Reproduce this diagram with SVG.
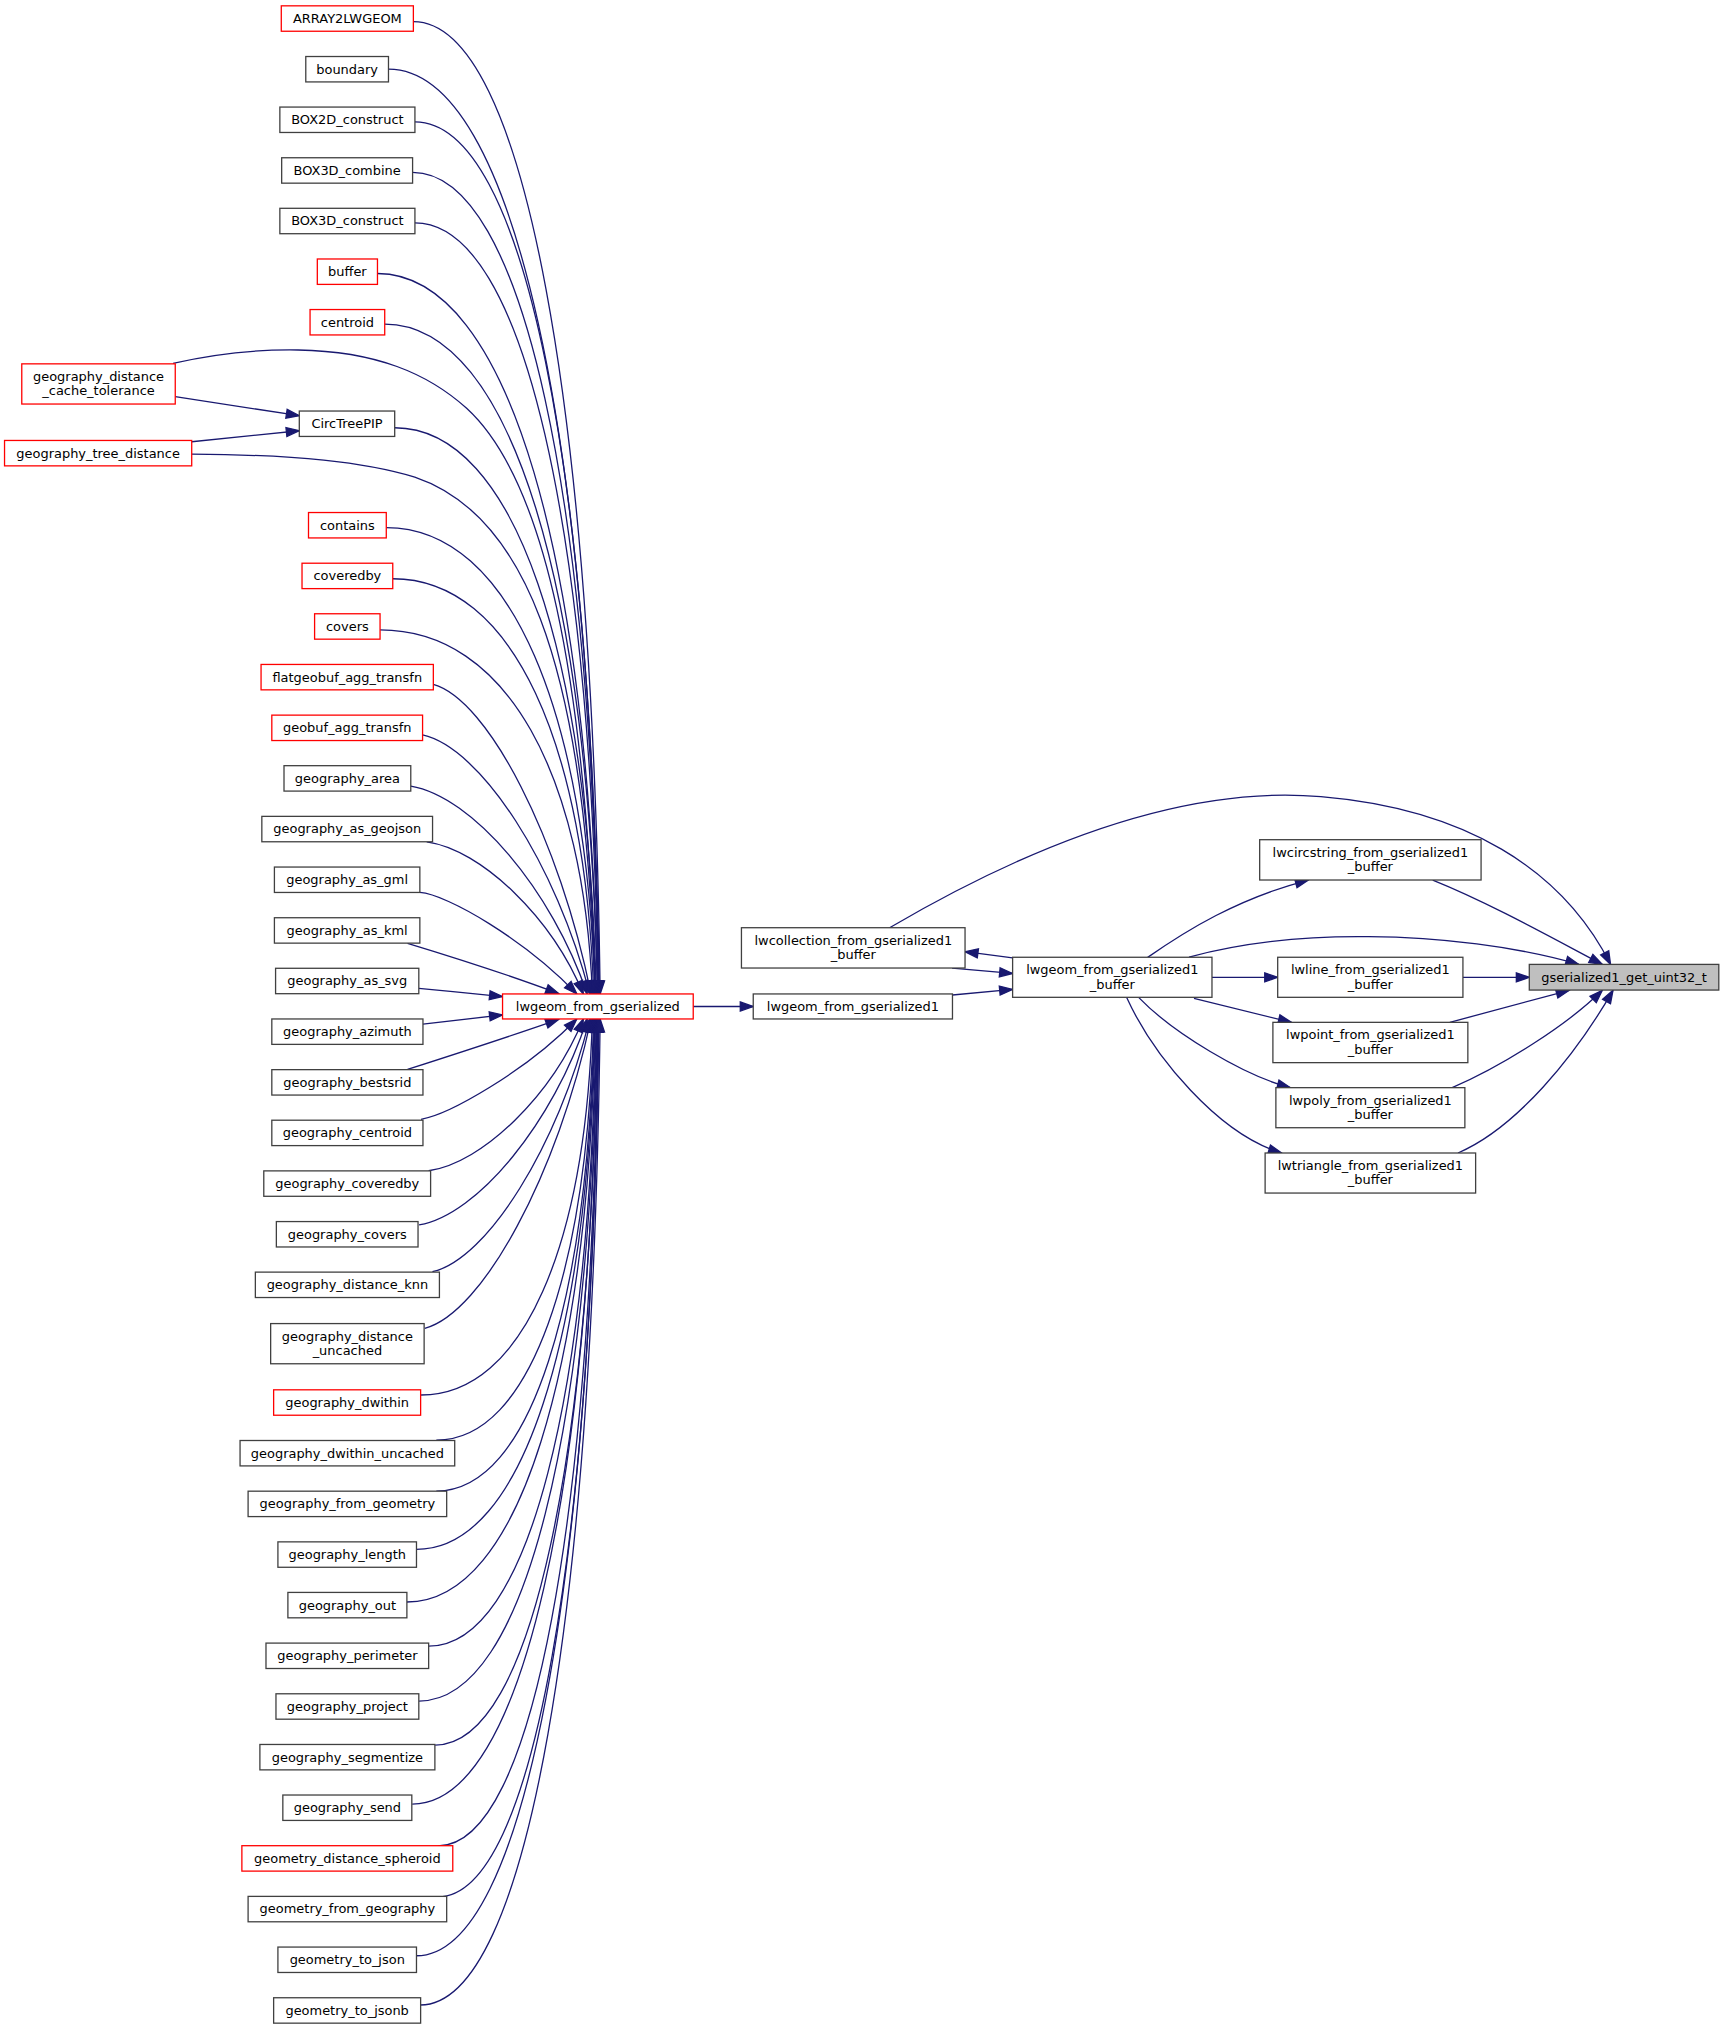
<svg xmlns="http://www.w3.org/2000/svg" width="1724" height="2029" viewBox="0 0 1724 2029">
<style>
.n rect{fill:#ffffff;stroke:#404040;stroke-width:1}
.r rect{fill:#ffffff;stroke:#ff0000;stroke-width:1}
.g rect{fill:#bfbfbf;stroke:#404040;stroke-width:1}
text{font-family:"DejaVu Sans","Liberation Sans",sans-serif;font-size:10px;fill:#000000;text-anchor:middle}
#edges path{fill:none;stroke:#191970;stroke-width:1;marker-end:url(#ah)}
</style>
<defs>
<marker id="ah" markerUnits="userSpaceOnUse" markerWidth="12" markerHeight="9" refX="10" refY="3.5" orient="auto" overflow="visible">
<path d="M0,0 L10,3.5 L0,7 z" fill="#191970" stroke="#191970" stroke-width="1"/>
</marker>
</defs>
<rect x="0" y="0" width="1724" height="2029" fill="#ffffff"/>
<g transform="scale(1.29623)">
<g id="edges">
<path d="M318.9,16.7 C405.4,16.7 457.2,316.7 463,766.8"/>
<path d="M299.7,53.4 C397.4,53.4 456,338.8 462.5,766.8"/>
<path d="M320.1,94 C405.2,94 456.3,363.1 462,766.8"/>
<path d="M318.3,133 C404.5,133 456.3,386.5 462,766.8"/>
<path d="M320.1,172 C404.9,172 455.8,409.9 461.5,766.8"/>
<path d="M291.2,211 C393.1,211 454.2,433.3 461,766.8"/>
<path d="M296.8,250 C395.3,250 454.4,456.7 461,766.8"/>
<path d="M133.5,280.3 C170,272 200,269.5 230,270 C290,271 330,288 360,315 C420,370 452,520 459.5,766.8"/>
<path d="M135.2,306 L230.9,320.7"/>
<path d="M147.9,340.8 L230.9,332.3"/>
<path d="M304.5,330 C397.8,330 453.8,504.7 460,766.8"/>
<path d="M147.9,350.3 C230,351 280,356 320,368 C400,395 452,500 459,766.8"/>
<path d="M298,407 C394.6,407 452.6,550.9 459,766.8"/>
<path d="M303,446.5 C396,446.5 451.8,574.6 458,766.8"/>
<path d="M293.2,486 C391.5,486 450.4,598.3 457,766.8"/>
<path d="M334.3,528 C376.9,539.9 431.7,647.4 456,766.8"/>
<path d="M326,567 C371.2,577 429.2,666.9 455,766.8"/>
<path d="M316.9,606.4 C364.5,614.4 425.8,686.6 453,766.8"/>
<path d="M329.2,649.4 C371.5,655.3 425.8,708.1 450,766.8"/>
<path d="M323.9,688.5 C345,690 405,725 445,766.8"/>
<path d="M314.4,727.7 C355,740 395,753 431,766.5"/>
<path d="M323.1,762.5 C345,764.5 365,766.5 387.7,768.8"/>
<path d="M326.3,790 C345,788 365,785.5 387.7,783"/>
<path d="M314.4,825 C355,812 395,799 431,786.4"/>
<path d="M324.8,863.5 C346,860 405,827 445,786.1"/>
<path d="M330.7,903.2 C372.5,897.3 426.1,844.6 450,786.1"/>
<path d="M323.3,945 C368.7,937.1 427.1,865.6 453,786.1"/>
<path d="M333.6,981.1 C376.1,971.4 430.7,883.6 455,786.1"/>
<path d="M327.7,1024.8 C372.6,1012.9 430.3,905.5 456,786.1"/>
<path d="M324.8,1076.2 C404.1,1076.2 451.7,960.2 457,786.1"/>
<path d="M336.6,1111 C409.4,1111 453.1,981 458,786.1"/>
<path d="M336.6,1150.3 C409.7,1150.3 453.6,1004.6 458.5,786.1"/>
<path d="M321.2,1195.3 C403.9,1195.3 453.5,1031.6 459,786.1"/>
<path d="M313.9,1235.9 C401.3,1235.9 453.7,1056 459.5,786.1"/>
<path d="M330.7,1269.9 C408.3,1269.9 454.8,1076.4 460,786.1"/>
<path d="M323.3,1312.3 C405.6,1312.3 455,1101.8 460.5,786.1"/>
<path d="M335.7,1346.3 C410.9,1346.3 456,1122.2 461,786.1"/>
<path d="M318,1391.8 C403.8,1391.8 455.3,1149.5 461,786.1"/>
<path d="M338,1424 C412.1,1424 456.6,1168.8 461.5,786.1"/>
<path d="M338,1463.3 C412.4,1463.3 457,1192.4 462,786.1"/>
<path d="M321.2,1508.8 C405.7,1508.8 456.4,1219.7 462,786.1"/>
<path d="M324.2,1546.8 C407.5,1546.8 457.4,1242.5 463,786.1"/>
<path d="M534.8,776.5 L581.1,776.5"/>
<path d="M734.8,767.6 L781.2,763.3"/>
<path d="M734.5,746.8 L781.2,751"/>
<path d="M781.2,739 L744.5,734.2"/>
<path d="M686.3,715.7 C790,655 910,605 1019,614.6 C1130,624 1205,670 1242.5,744"/>
<path d="M917.3,738.3 C960,727 1010,722 1056,722.6 C1110,723 1170,730 1218,744"/>
<path d="M885.4,738.6 C915,718 955,693 1009.4,678.9"/>
<path d="M1105.3,679 C1150,697 1200,725 1236.1,744"/>
<path d="M935,754 L985.7,754"/>
<path d="M1128.6,754 L1179.8,754"/>
<path d="M921.1,770.2 L996.3,788.7"/>
<path d="M1118.5,788.7 L1210.6,764"/>
<path d="M878.6,769.6 C905,797 960,830 995.5,839.1"/>
<path d="M1120.3,839.1 C1160,822 1210,790 1236.1,764"/>
<path d="M869.2,769.6 C890,815 940,875 988.7,889.5"/>
<path d="M1124.8,889.5 C1170,870 1215,815 1244.4,764"/>
</g>
<g id="n_array2lwgeom" class="r"><rect x="217" y="4.5" width="101.9" height="19.6"/><text x="268" y="17.7">ARRAY2LWGEOM</text></g>
<g id="n_boundary" class="n"><rect x="235.9" y="43.6" width="63.8" height="19.6"/><text x="267.8" y="56.8">boundary</text></g>
<g id="n_box2d_construct" class="n"><rect x="215.9" y="82.6" width="104.2" height="19.6"/><text x="268" y="95.8">BOX2D_construct</text></g>
<g id="n_box3d_combine" class="n"><rect x="217.3" y="121.7" width="101" height="19.6"/><text x="267.8" y="134.9">BOX3D_combine</text></g>
<g id="n_box3d_construct" class="n"><rect x="215.9" y="160.7" width="104.2" height="19.6"/><text x="268" y="173.9">BOX3D_construct</text></g>
<g id="n_buffer" class="r"><rect x="244.8" y="199.8" width="46.4" height="19.6"/><text x="268" y="213">buffer</text></g>
<g id="n_centroid" class="r"><rect x="239.2" y="238.8" width="57.6" height="19.6"/><text x="268" y="252">centroid</text></g>
<g id="n_geography_distance_cache_tolerance" class="r"><rect x="16.8" y="280.7" width="118.4" height="31"/><text x="76" y="293.8">geography_distance</text><text x="76" y="304.8">_cache_tolerance</text></g>
<g id="n_circtreepip" class="n"><rect x="230.9" y="317.1" width="73.6" height="19.6"/><text x="267.7" y="330.3">CircTreePIP</text></g>
<g id="n_geography_tree_distance" class="r"><rect x="3.5" y="339.8" width="144.4" height="19.6"/><text x="75.7" y="353">geography_tree_distance</text></g>
<g id="n_contains" class="r"><rect x="238" y="395.4" width="60" height="19.6"/><text x="268" y="408.6">contains</text></g>
<g id="n_coveredby" class="r"><rect x="233" y="434.5" width="70" height="19.6"/><text x="268" y="447.7">coveredby</text></g>
<g id="n_covers" class="r"><rect x="242.7" y="473.5" width="50.5" height="19.6"/><text x="268" y="486.7">covers</text></g>
<g id="n_flatgeobuf_agg_transfn" class="r"><rect x="201.4" y="512.6" width="132.9" height="19.6"/><text x="267.9" y="525.8">flatgeobuf_agg_transfn</text></g>
<g id="n_geobuf_agg_transfn" class="r"><rect x="209.7" y="551.7" width="116.3" height="19.6"/><text x="267.9" y="564.9">geobuf_agg_transfn</text></g>
<g id="n_geography_area" class="n"><rect x="219.1" y="590.7" width="97.8" height="19.6"/><text x="268" y="603.9">geography_area</text></g>
<g id="n_geography_as_geojson" class="n"><rect x="202" y="629.8" width="131.7" height="19.6"/><text x="267.9" y="643">geography_as_geojson</text></g>
<g id="n_geography_as_gml" class="n"><rect x="211.7" y="668.9" width="112.2" height="19.6"/><text x="267.8" y="682.1">geography_as_gml</text></g>
<g id="n_geography_as_kml" class="n"><rect x="211.7" y="708" width="112.2" height="19.6"/><text x="267.8" y="721.2">geography_as_kml</text></g>
<g id="n_geography_as_svg" class="n"><rect x="212.6" y="747" width="110.5" height="19.6"/><text x="267.9" y="760.2">geography_as_svg</text></g>
<g id="n_geography_azimuth" class="n"><rect x="209.7" y="786.1" width="116.6" height="19.6"/><text x="268" y="799.3">geography_azimuth</text></g>
<g id="n_geography_bestsrid" class="n"><rect x="209.7" y="825.2" width="116.6" height="19.6"/><text x="268" y="838.4">geography_bestsrid</text></g>
<g id="n_geography_centroid" class="n"><rect x="209.7" y="864.2" width="116.6" height="19.6"/><text x="268" y="877.4">geography_centroid</text></g>
<g id="n_geography_coveredby" class="n"><rect x="203.5" y="903.3" width="128.7" height="19.6"/><text x="267.9" y="916.5">geography_coveredby</text></g>
<g id="n_geography_covers" class="n"><rect x="213.2" y="942.4" width="109.3" height="19.6"/><text x="267.9" y="955.6">geography_covers</text></g>
<g id="n_geography_distance_knn" class="n"><rect x="197" y="981.4" width="142" height="19.6"/><text x="268" y="994.6">geography_distance_knn</text></g>
<g id="n_geography_distance_uncached" class="n"><rect x="208.8" y="1021.1" width="118.4" height="31"/><text x="268" y="1034.2">geography_distance</text><text x="268" y="1045.2">_uncached</text></g>
<g id="n_geography_dwithin" class="r"><rect x="211.1" y="1072.2" width="113.4" height="19.6"/><text x="267.8" y="1085.4">geography_dwithin</text></g>
<g id="n_geography_dwithin_uncached" class="n"><rect x="185.2" y="1111.3" width="165.6" height="19.6"/><text x="268" y="1124.5">geography_dwithin_uncached</text></g>
<g id="n_geography_from_geometry" class="n"><rect x="191.4" y="1150.4" width="153.2" height="19.6"/><text x="268" y="1163.6">geography_from_geometry</text></g>
<g id="n_geography_length" class="n"><rect x="214.4" y="1189.5" width="106.9" height="19.6"/><text x="267.9" y="1202.7">geography_length</text></g>
<g id="n_geography_out" class="n"><rect x="222.1" y="1228.5" width="91.8" height="19.6"/><text x="268" y="1241.7">geography_out</text></g>
<g id="n_geography_perimeter" class="n"><rect x="205.2" y="1267.6" width="125.5" height="19.6"/><text x="268" y="1280.8">geography_perimeter</text></g>
<g id="n_geography_project" class="n"><rect x="212.9" y="1306.7" width="110.2" height="19.6"/><text x="268" y="1319.9">geography_project</text></g>
<g id="n_geography_segmentize" class="n"><rect x="200.5" y="1345.8" width="135" height="19.6"/><text x="268" y="1359">geography_segmentize</text></g>
<g id="n_geography_send" class="n"><rect x="218.2" y="1384.8" width="99.5" height="19.6"/><text x="268" y="1398">geography_send</text></g>
<g id="n_geometry_distance_spheroid" class="r"><rect x="186.6" y="1423.9" width="162.7" height="19.6"/><text x="268" y="1437.1">geometry_distance_spheroid</text></g>
<g id="n_geometry_from_geography" class="n"><rect x="191.4" y="1463" width="153.2" height="19.6"/><text x="268" y="1476.2">geometry_from_geography</text></g>
<g id="n_geometry_to_json" class="n"><rect x="214.4" y="1502.1" width="106.9" height="19.6"/><text x="267.9" y="1515.3">geometry_to_json</text></g>
<g id="n_geometry_to_jsonb" class="n"><rect x="211.1" y="1541.2" width="113.4" height="19.6"/><text x="267.8" y="1554.4">geometry_to_jsonb</text></g>
<g id="n_lwgeom_from_gserialized" class="r"><rect x="387.7" y="766.8" width="147.1" height="19.3"/><text x="461.2" y="779.9">lwgeom_from_gserialized</text></g>
<g id="n_lwgeom_from_gserialized1" class="n"><rect x="581.1" y="766.8" width="153.7" height="19.3"/><text x="658" y="779.9">lwgeom_from_gserialized1</text></g>
<g id="n_lwcollection_from_gserialized1_buffer" class="n"><rect x="572" y="715.7" width="172.5" height="31.1"/><text x="658.3" y="728.8">lwcollection_from_gserialized1</text><text x="658.3" y="739.8">_buffer</text></g>
<g id="n_lwgeom_from_gserialized1_buffer" class="n"><rect x="781.2" y="738.5" width="153.8" height="30.9"/><text x="858.1" y="751.6">lwgeom_from_gserialized1</text><text x="858.1" y="762.6">_buffer</text></g>
<g id="n_lwcircstring_from_gserialized1_buffer" class="n"><rect x="971.8" y="647.8" width="170.8" height="31.1"/><text x="1057.2" y="660.9">lwcircstring_from_gserialized1</text><text x="1057.2" y="671.9">_buffer</text></g>
<g id="n_lwline_from_gserialized1_buffer" class="n"><rect x="985.7" y="738.5" width="142.9" height="30.9"/><text x="1057.2" y="751.6">lwline_from_gserialized1</text><text x="1057.2" y="762.6">_buffer</text></g>
<g id="n_lwpoint_from_gserialized1_buffer" class="n"><rect x="982" y="788.7" width="150.4" height="31.1"/><text x="1057.2" y="801.8">lwpoint_from_gserialized1</text><text x="1057.2" y="812.8">_buffer</text></g>
<g id="n_lwpoly_from_gserialized1_buffer" class="n"><rect x="984.3" y="839.1" width="145.8" height="30.9"/><text x="1057.2" y="852.2">lwpoly_from_gserialized1</text><text x="1057.2" y="863.2">_buffer</text></g>
<g id="n_lwtriangle_from_gserialized1_buffer" class="n"><rect x="976" y="889.5" width="162.4" height="30.9"/><text x="1057.2" y="902.6">lwtriangle_from_gserialized1</text><text x="1057.2" y="913.6">_buffer</text></g>
<g id="n_gserialized1_get_uint32_t" class="g"><rect x="1179.8" y="744" width="146.2" height="19.8"/><text x="1252.9" y="757.3">gserialized1_get_uint32_t</text></g>
</g>
</svg>
